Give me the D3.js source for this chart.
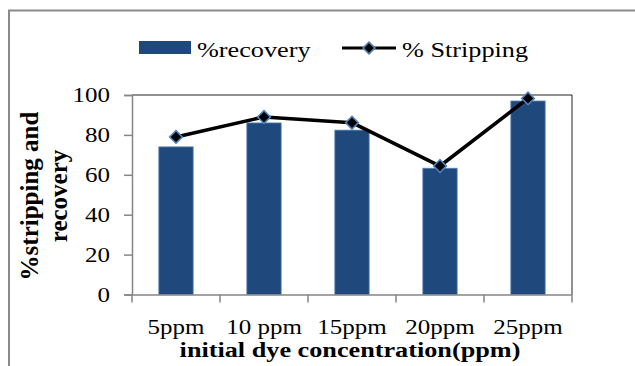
<!DOCTYPE html>
<html>
<head>
<meta charset="utf-8">
<script src="https://cdn.jsdelivr.net/npm/d3@7"></script>
<style>
  html, body { margin: 0; padding: 0; background: #fff; }
  svg { display: block; }
  text { font-family: "Liberation Serif", "Times New Roman", serif; fill: #000; }
</style>
</head>
<body>
<svg id="chart" width="635" height="366"></svg>
<script>
// Dye concentration levels and measured percentages
const categories = ["5ppm", "10 ppm", "15ppm", "20ppm", "25ppm"];
const recovery = [74, 86, 82.4, 63.3, 97];
const stripping = [79, 89, 86.1, 64.4, 98.3];
const yTicks = [0, 20, 40, 60, 80, 100];
const seriesNames = ["%recovery", "% Stripping"];
const xTitle = "initial dye concentration(ppm)";
const yTitleLines = ["%stripping and", "recovery"];

const svg = d3.select("#chart");
const plot = { left: 132, right: 572, top: 95, bottom: 294.5 };
const stretch = 1.22; // wide glyphs used for horizontal labels

const barFill = "#1F497D", barEdge = "#5B86B8", markerEdge = "#4F81BD", axisGray = "#868686";

// outer chart frame
svg.append("rect")
  .attr("x", 9).attr("y", 10.5).attr("width", 700).attr("height", 500)
  .attr("fill", "none").attr("stroke", "#8a8a8a").attr("stroke-width", 2);

const x = d3.scaleBand().domain(categories).range([plot.left, plot.right]).paddingInner(0).paddingOuter(0);
const y = d3.scaleLinear().domain([0, 100]).range([plot.bottom, plot.top]);
const barW = x.bandwidth() * 0.39;

// plot area border (top and right)
svg.append("path")
  .attr("d", `M${plot.left},${plot.top}H${plot.right}V${plot.bottom}`)
  .attr("fill", "none").attr("stroke", "#222").attr("stroke-width", 1);

// bars
svg.append("g").selectAll("rect").data(recovery).join("rect")
  .attr("x", (d, i) => x(categories[i]) + x.bandwidth() / 2 - barW / 2)
  .attr("y", d => y(d))
  .attr("width", barW)
  .attr("height", d => y(0) - y(d))
  .attr("fill", barFill)
  .attr("stroke", barEdge).attr("stroke-width", 0.8);

// y axis
const yAxis = svg.append("g").attr("transform", `translate(${plot.left},0)`)
  .call(d3.axisLeft(y).tickValues(yTicks).tickSize(8).tickFormat(""));
yAxis.selectAll("path, line").attr("stroke", axisGray).attr("stroke-width", 1.5);

svg.append("g").selectAll("text").data(yTicks).join("text")
  .attr("transform", d => `translate(110,${y(d) + 7}) scale(${stretch},1)`)
  .attr("text-anchor", "end")
  .attr("font-size", 20.5)
  .text(d => d);

// x axis with boundary ticks
const xAxis = svg.append("g").attr("transform", `translate(0,${plot.bottom})`)
  .call(d3.axisBottom(x).tickSize(0).tickFormat(""));
xAxis.selectAll("path").attr("stroke", axisGray).attr("stroke-width", 1.5);
const bounds = categories.map(c => x(c)).concat([plot.right]);
svg.append("g").selectAll("line").data(bounds).join("line")
  .attr("x1", d => d).attr("x2", d => d)
  .attr("y1", plot.bottom).attr("y2", plot.bottom + 8)
  .attr("stroke", axisGray).attr("stroke-width", 1.5);

svg.append("g").selectAll("text").data(categories).join("text")
  .attr("transform", d => `translate(${x(d) + x.bandwidth() / 2},334) scale(${stretch},1)`)
  .attr("text-anchor", "middle")
  .attr("font-size", 20.5)
  .text(d => d);

// stripping line and markers
const line = d3.line()
  .x((d, i) => x(categories[i]) + x.bandwidth() / 2)
  .y(d => y(d));
svg.append("path").datum(stripping)
  .attr("d", line)
  .attr("fill", "none").attr("stroke", "#000").attr("stroke-width", 3.6)
  .attr("stroke-linejoin", "round");

const diamond = d3.symbol().type(d3.symbolSquare).size(80);
svg.append("g").selectAll("path").data(stripping).join("path")
  .attr("d", diamond)
  .attr("transform", (d, i) => `translate(${x(categories[i]) + x.bandwidth() / 2},${y(d)}) rotate(45)`)
  .attr("fill", "#000").attr("stroke", markerEdge).attr("stroke-width", 1.6);

// axis titles
svg.append("text")
  .attr("transform", `translate(350,357) scale(${stretch},1)`)
  .attr("text-anchor", "middle")
  .attr("font-size", 21.5).attr("font-weight", "bold")
  .text(xTitle);

const yt = svg.append("text")
  .attr("transform", "translate(37.5,196) rotate(-90)")
  .attr("text-anchor", "middle")
  .attr("font-size", 25).attr("font-weight", "bold");
yt.append("tspan").attr("x", 0).attr("y", 0).text(yTitleLines[0]);
yt.append("tspan").attr("x", 0).attr("y", 29).text(yTitleLines[1]);

// legend
const lg = svg.append("g");
lg.append("rect").attr("x", 139).attr("y", 41).attr("width", 52).attr("height", 13).attr("fill", barFill);
lg.append("text")
  .attr("transform", `translate(197,57) scale(${stretch},1)`)
  .attr("font-size", 21.5).text(seriesNames[0]);
lg.append("line").attr("x1", 342).attr("x2", 396).attr("y1", 48).attr("y2", 48)
  .attr("stroke", "#000").attr("stroke-width", 3);
lg.append("path").attr("d", d3.symbol().type(d3.symbolSquare).size(70))
  .attr("transform", "translate(369,48) rotate(45)")
  .attr("fill", "#000").attr("stroke", markerEdge).attr("stroke-width", 1.6);
lg.append("text")
  .attr("transform", `translate(402,57) scale(${stretch},1)`)
  .attr("font-size", 21.5).text(seriesNames[1]);
</script>
</body>
</html>
